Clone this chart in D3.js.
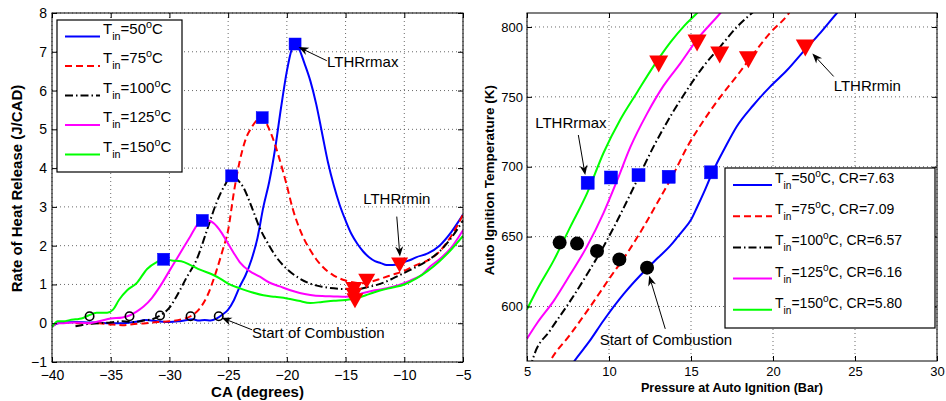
<!DOCTYPE html>
<html><head><meta charset="utf-8">
<script src="https://cdn.jsdelivr.net/npm/d3@7/dist/d3.min.js"></script>
<style>body{margin:0;background:#fff;} text{font-family:"Liberation Sans",Arial,Helvetica,sans-serif;fill:#000;}</style>
</head><body>
<svg id="c" width="946" height="401"></svg>
<script>
// ---------------- DATA ----------------
const seriesTemps = ["50", "75", "100", "125", "150"];
const seriesCR = ["7.63", "7.09", "6.57", "6.16", "5.80"];
const seriesColors = ["#0000ff", "#ff0000", "#000000", "#ff00ff", "#00ff00"];

const caTicks = [-40, -35, -30, -25, -20, -15, -10, -5];
const hrrTicks = [-1, 0, 1, 2, 3, 4, 5, 6, 7, 8];
const pTicks = [5, 10, 15, 20, 25, 30];
const tTicks = [600, 650, 700, 750, 800];

// Left: rate of heat release vs crank angle
const hrr50 = [[-40,-0.08],[-39.5,0.0],[-39,0.02],[-38,0.03],[-37,0.02],[-36,0.01],[-35,0.0],[-34,0.0],[-33,0.03],[-32,0.08],[-31,0.05],[-30,0.03],[-29,0.06],[-28,0.1],[-27.5,0.07],[-27,0.08],[-26.5,0.07],[-26,0.12],[-25.5,0.22],[-25,0.35],[-24.5,0.6],[-24,0.95],[-23.5,1.25],[-23,1.65],[-22.5,2.2],[-22,3.0],[-21.5,3.65],[-21,4.5],[-20.5,5.55],[-20,6.5],[-19.6,7.05],[-19.3,7.2],[-19,7.1],[-18.5,6.7],[-18,6.25],[-17.5,5.65],[-17,4.9],[-16.5,4.15],[-16,3.55],[-15.5,3.05],[-15,2.65],[-14.5,2.3],[-14,2.05],[-13.5,1.85],[-13,1.7],[-12.5,1.6],[-12,1.55],[-11.5,1.5],[-11,1.5],[-10.5,1.52],[-10,1.58],[-9.5,1.63],[-9,1.7],[-8,1.8],[-7,2.0],[-6,2.35],[-5,2.8]];
const hrr75 = [[-38,0.0],[-37,0.0],[-36,0.0],[-35,-0.03],[-34,-0.05],[-33,-0.02],[-32,0.0],[-31,0.03],[-30,0.05],[-29,0.1],[-28.2,0.18],[-27.5,0.35],[-26.8,0.69],[-26,1.35],[-25.5,1.85],[-25,2.4],[-24.5,3.4],[-24,4.2],[-23.5,4.75],[-23,5.05],[-22.5,5.25],[-22.1,5.3],[-21.5,5.0],[-21,4.6],[-20.5,4.1],[-20,3.55],[-19.5,2.95],[-19,2.5],[-18.5,2.15],[-18,1.88],[-17.5,1.65],[-17,1.47],[-16.5,1.33],[-16,1.23],[-15,1.1],[-14,1.04],[-13.5,1.03],[-13,1.06],[-12,1.15],[-11,1.25],[-10,1.35],[-9,1.5],[-8,1.62],[-7,1.85],[-6,2.25],[-5,2.8]];
const hrr100 = [[-38,-0.08],[-37.5,-0.05],[-37,-0.02],[-36,0.0],[-35,0.02],[-34,0.05],[-33,0.03],[-32,0.08],[-31.5,0.1],[-30.8,0.2],[-30,0.4],[-29.4,0.69],[-28.5,1.2],[-27.7,1.63],[-26.8,2.4],[-26,3.1],[-25.3,3.55],[-24.7,3.8],[-24.2,3.7],[-23.7,3.5],[-23,3.0],[-22.3,2.45],[-21.5,2.0],[-21,1.75],[-20,1.4],[-19,1.17],[-18,1.02],[-17,0.94],[-16,0.9],[-15,0.88],[-14,0.88],[-13,0.94],[-12,1.02],[-11,1.15],[-10,1.3],[-9,1.45],[-8,1.62],[-7,1.85],[-6,2.2],[-5,2.65]];
const hrr125 = [[-40,-0.1],[-39.5,0.0],[-39,0.0],[-38,0.02],[-37,0.0],[-36,0.05],[-35,0.12],[-34,0.15],[-33.4,0.2],[-32.8,0.3],[-32.2,0.43],[-31.5,0.65],[-30.8,0.95],[-30,1.35],[-29.4,1.65],[-28.8,1.95],[-28.2,2.25],[-27.6,2.55],[-27.2,2.65],[-26.7,2.65],[-26.2,2.57],[-25.6,2.35],[-25,2.05],[-24.5,1.8],[-24,1.57],[-23.2,1.35],[-22.3,1.2],[-21.5,1.05],[-20.6,0.95],[-19.7,0.85],[-18.9,0.78],[-18,0.73],[-17,0.7],[-16,0.69],[-15,0.68],[-14.3,0.7],[-13.5,0.78],[-12.5,0.85],[-11.5,0.9],[-10.5,0.98],[-9.5,1.1],[-8.5,1.25],[-7.8,1.46],[-7,1.65],[-6,1.95],[-5,2.4]];
const hrr150 = [[-40,-0.1],[-39.5,0.05],[-39,0.05],[-38.5,0.08],[-38,0.1],[-37.5,0.12],[-36.9,0.2],[-36.2,0.27],[-35.3,0.27],[-34.8,0.35],[-34.3,0.6],[-33.6,0.85],[-32.8,1.03],[-31.9,1.4],[-31.1,1.57],[-30.5,1.65],[-29.8,1.62],[-29,1.6],[-28.2,1.5],[-27.4,1.38],[-26.3,1.25],[-25.5,1.12],[-25,1.02],[-24,0.9],[-23,0.8],[-22,0.72],[-21,0.68],[-20,0.64],[-19,0.58],[-18,0.52],[-17,0.55],[-16,0.58],[-15,0.6],[-14,0.65],[-13,0.75],[-12,0.85],[-11,0.92],[-10,1.0],[-9,1.15],[-8,1.35],[-7,1.6],[-6,1.9],[-5,2.25]];
const lthrMaxLeft = [[-19.3,7.2],[-22.1,5.3],[-24.7,3.8],[-27.2,2.65],[-30.5,1.65]];
const lthrMinLeft = [[-10.4,1.5],[-13.2,1.08],[-14.3,0.87],[-14.3,0.72],[-14.2,0.58]];
const socLeft = [[-25.8,0.18],[-28.2,0.18],[-30.8,0.2],[-33.4,0.18],[-36.8,0.18]];

// Right: auto-ignition temperature vs pressure
const ai50 = [[7.6,556],[7.89,561],[8.8,575],[9.67,590],[10.9,609],[12.3,627],[13.0,635],[13.7,643],[14.2,650],[14.55,655],[15.0,662],[15.37,671],[15.8,682],[16.2,693],[16.6,703],[17,712],[17.8,729],[18.8,744],[19.8,757],[20.85,769],[21.97,784],[22.9,796],[23.9,810],[24.2,814]];
const ai75 = [[6.2,556],[6.42,561],[7.64,580],[8.86,600],[10.08,621],[11.1,638],[12.11,657],[13.13,678],[13.94,695],[14.76,714],[15.77,733],[16.79,750],[17.8,765],[18.82,781],[19.84,796],[20.85,808],[21.1,812]];
const ai100 = [[5.2,556],[5.4,564],[6.42,583],[7.64,604],[8.66,623],[9.67,643],[10.7,666],[11.7,690],[12.7,714],[13.74,736],[14.76,755],[15.77,772],[16.79,786],[17.8,800],[18.82,811]];
const ai125 = [[5,577],[5.61,588],[6.63,604],[7.64,623],[8.66,643],[9.67,667],[10.49,690],[11.3,714],[12.32,738],[13.33,758],[14.35,774],[15.37,791],[16.79,810],[17,813]];
const ai150 = [[5,598],[5.61,612],[6.63,633],[7.64,657],[8.66,681],[9.67,710],[10.7,734],[11.7,753],[12.72,772],[13.74,789],[14.6,801],[15.37,810],[15.6,813]];
const lthrMaxRight = [[16.22,696],[13.64,692.8],[11.8,694],[10.12,692.3],[8.7,688.5]];
const lthrMinRight = [[21.97,785],[18.5,776.6],[16.75,780],[15.37,788.5],[13.03,773.5]];
const socRight = [[12.32,627.8],[10.63,633.7],[9.27,639.7],[8.05,645],[6.99,645.7]];

// ---------------- DRAW ----------------
const svg = d3.select("#c");
const dashes = [null, "7,4", "8,3,1.5,3", null, null];

function tinLabel(g, x, y, temp, extra, fs) {
  const t = g.append("text").attr("x", x).attr("y", y).attr("font-size", fs);
  t.append("tspan").text("T");
  t.append("tspan").attr("dy", 6).attr("font-size", fs * 0.72).text("in");
  t.append("tspan").attr("dy", -6).text("=" + temp);
  t.append("tspan").attr("dy", -6).attr("font-size", fs * 0.72).text("o");
  t.append("tspan").attr("dy", 6).text("C" + extra);
}

function arrow(g, x1, y1, x2, y2) {
  const ang = Math.atan2(y2 - y1, x2 - x1);
  const L = 10, W = 4, N = 7;
  g.append("line").attr("x1", x1).attr("y1", y1)
    .attr("x2", x2 - Math.cos(ang) * N).attr("y2", y2 - Math.sin(ang) * N)
    .attr("stroke", "#000").attr("stroke-width", 1);
  const c = Math.cos(ang), s = Math.sin(ang);
  const pts = [[0, 0], [-L, W], [-N, 0], [-L, -W]].map(([u, v]) => [x2 + u * c - v * s, y2 + u * s + v * c]);
  g.append("path").attr("d", "M" + pts.map(p => p.join(",")).join("L") + "Z").attr("fill", "#000");
}

function frame(g, x, y, w, h, xTicks, yTicks) {
  g.append("g").selectAll("line").data(xTicks).join("line")
    .attr("x1", d => x(d)).attr("x2", d => x(d)).attr("y1", 0).attr("y2", h)
    .attr("stroke", "#444").attr("stroke-width", 0.8).attr("stroke-dasharray", "1,3");
  g.append("g").selectAll("line").data(yTicks).join("line")
    .attr("y1", d => y(d)).attr("y2", d => y(d)).attr("x1", 0).attr("x2", w)
    .attr("stroke", "#444").attr("stroke-width", 0.8).attr("stroke-dasharray", "1,3");
}

function axes(g, x, y, w, h, xTicks, yTicks, fs, xpad, ypad) {
  const T = 5;
  const bottom = d3.axisBottom(x).tickValues(xTicks).tickSizeInner(-T).tickSizeOuter(0).tickPadding(xpad).tickFormat(d3.format("d"));
  const left = d3.axisLeft(y).tickValues(yTicks).tickSizeInner(-T).tickSizeOuter(0).tickPadding(ypad).tickFormat(d3.format("d"));
  const top = d3.axisTop(x).tickValues(xTicks).tickSizeInner(-T).tickSizeOuter(0).tickFormat("");
  const right = d3.axisRight(y).tickValues(yTicks).tickSizeInner(-T).tickSizeOuter(0).tickFormat("");
  const gb = g.append("g").attr("transform", `translate(0,${h})`).call(bottom);
  const gl = g.append("g").call(left);
  g.append("g").call(top);
  g.append("g").attr("transform", `translate(${w},0)`).call(right);
  [gb, gl].forEach(a => a.selectAll("text").attr("font-size", fs).attr("font-family", '"Liberation Sans",Arial,sans-serif').attr("fill", "#000"));
  g.selectAll(".domain").remove();
  g.selectAll(".tick line").attr("stroke", "#000");
  g.append("rect").attr("width", w).attr("height", h).attr("fill", "none").attr("stroke", "#000").attr("stroke-width", 1);
}

function trianglePath(cx, cy, w, h) {
  return `M${cx - w / 2},${cy - h / 2}L${cx + w / 2},${cy - h / 2}L${cx},${cy + h / 2}Z`;
}

// ---------- LEFT CHART ----------
{
  const L = 52, T = 13, W = 411, H = 349;
  const g = svg.append("g").attr("transform", `translate(${L},${T})`);
  const x = d3.scaleLinear().domain([-40, -5]).range([0, W]);
  const y = d3.scaleLinear().domain([-1, 8]).range([H, 0]);
  frame(g, x, y, W, H, caTicks, hrrTicks);
  g.append("clipPath").attr("id", "clipL").append("rect").attr("width", W).attr("height", H);
  const line = d3.line().x(d => x(d[0])).y(d => y(d[1])).curve(d3.curveMonotoneX);
  const data = [hrr50, hrr75, hrr100, hrr125, hrr150];
  const cg = g.append("g").attr("clip-path", "url(#clipL)");
  data.forEach((d, i) => {
    cg.append("path").datum(d).attr("d", line).attr("fill", "none")
      .attr("stroke", seriesColors[i]).attr("stroke-width", 2)
      .attr("stroke-dasharray", dashes[i]);
  });
  cg.selectAll(".sq").data(lthrMaxLeft).join("rect")
    .attr("x", d => x(d[0]) - 6).attr("y", d => y(d[1]) - 6).attr("width", 12).attr("height", 12)
    .attr("fill", "#0000ff").attr("stroke", "#0000ff").attr("stroke-width", 0.5);
  cg.selectAll(".tri").data(lthrMinLeft).join("path")
    .attr("d", d => trianglePath(x(d[0]), y(d[1]), 17, 15)).attr("fill", "#ff0000");
  cg.selectAll(".soc").data(socLeft).join("circle")
    .attr("cx", d => x(d[0])).attr("cy", d => y(d[1])).attr("r", 4.2)
    .attr("fill", "none").attr("stroke", "#000").attr("stroke-width", 1.6);

  axes(g, x, y, W, H, caTicks, hrrTicks, 14, 8, 5);

  const ag = g.append("g");
  ag.append("text").attr("x", x(-16.58)).attr("y", y(6.6)).attr("font-size", 15).text("LTHRrmax");
  arrow(ag, x(-16.6), y(6.77), x(-19.0), y(7.12));
  ag.append("text").attr("x", x(-13.5)).attr("y", y(3.08)).attr("font-size", 15).text("LTHRrmin");
  arrow(ag, x(-10.64), y(2.75), x(-10.37), y(1.72));
  ag.append("text").attr("x", x(-22.96)).attr("y", y(-0.38)).attr("font-size", 15).text("Start of Combustion");
  arrow(ag, x(-22.96), y(-0.17), x(-25.55), y(0.14));

  const lg = svg.append("g").attr("transform", "translate(57,20)");
  lg.append("rect").attr("width", 125).attr("height", 152).attr("fill", "#fff").attr("stroke", "#000").attr("stroke-width", 1.2);
  seriesTemps.forEach((t, i) => {
    const yy = 16.5 + i * 29.5;
    lg.append("line").attr("x1", 8).attr("x2", 43).attr("y1", yy).attr("y2", yy)
      .attr("stroke", seriesColors[i]).attr("stroke-width", 2).attr("stroke-dasharray", dashes[i]);
    tinLabel(lg, 46, yy - 3, t, "", 15);
  });

  svg.append("text").attr("x", L + W / 2).attr("y", 397).attr("text-anchor", "middle")
    .attr("font-size", 15).attr("font-weight", "bold").text("CA (degrees)");
  svg.append("text").attr("transform", `translate(22,${T + H / 2 + 1}) rotate(-90)`).attr("text-anchor", "middle")
    .attr("font-size", 15).attr("font-weight", "bold").text("Rate of Heat Release (J/CAD)");
}

// ---------- RIGHT CHART ----------
{
  const L = 527, T = 13, W = 410, H = 348;
  const g = svg.append("g").attr("transform", `translate(${L},${T})`);
  const x = d3.scaleLinear().domain([5, 30]).range([0, W]);
  const y = d3.scaleLinear().domain([561, 810]).range([H, 0]);
  frame(g, x, y, W, H, pTicks, tTicks);
  g.append("clipPath").attr("id", "clipR").append("rect").attr("width", W).attr("height", H);
  const line = d3.line().x(d => x(d[0])).y(d => y(d[1])).curve(d3.curveMonotoneX);
  const data = [ai50, ai75, ai100, ai125, ai150];
  const cg = g.append("g").attr("clip-path", "url(#clipR)");
  data.forEach((d, i) => {
    cg.append("path").datum(d).attr("d", line).attr("fill", "none")
      .attr("stroke", seriesColors[i]).attr("stroke-width", 2)
      .attr("stroke-dasharray", dashes[i]);
  });
  cg.selectAll(".sq").data(lthrMaxRight).join("rect")
    .attr("x", d => x(d[0]) - 6.5).attr("y", d => y(d[1]) - 6.5).attr("width", 13).attr("height", 13)
    .attr("fill", "#0000ff").attr("stroke", "#0000ff").attr("stroke-width", 0.5);
  cg.selectAll(".tri").data(lthrMinRight).join("path")
    .attr("d", d => trianglePath(x(d[0]), y(d[1]), 19, 17)).attr("fill", "#ff0000");
  cg.selectAll(".soc").data(socRight).join("circle")
    .attr("cx", d => x(d[0])).attr("cy", d => y(d[1])).attr("r", 7)
    .attr("fill", "#000");

  axes(g, x, y, W, H, pTicks, tTicks, 13, 6, 4);

  const ag = g.append("g");
  ag.append("text").attr("x", x(5.5)).attr("y", y(727.7)).attr("font-size", 15).text("LTHRrmax");
  arrow(ag, x(8.13), y(722.7), x(8.55), y(694));
  ag.append("text").attr("x", x(23.7)).attr("y", y(754.3)).attr("font-size", 15).text("LTHRrmin");
  arrow(ag, x(23.7), y(764.6), x(22.4), y(781));
  ag.append("text").attr("x", x(9.43)).attr("y", y(572.2)).attr("font-size", 15).text("Start of Combustion");
  arrow(ag, x(13.43), y(584), x(12.45), y(622));

  const lg = svg.append("g").attr("transform", "translate(725,168)");
  lg.append("rect").attr("width", 210).attr("height", 160).attr("fill", "#fff").attr("stroke", "#000").attr("stroke-width", 1.2);
  seriesTemps.forEach((t, i) => {
    const yy = 17 + i * 31.2;
    lg.append("line").attr("x1", 8).attr("x2", 47).attr("y1", yy).attr("y2", yy)
      .attr("stroke", seriesColors[i]).attr("stroke-width", 2).attr("stroke-dasharray", dashes[i]);
    tinLabel(lg, 50, yy - 2, t, ", CR=" + seriesCR[i], 14);
  });

  svg.append("text").attr("x", 732).attr("y", 392).attr("text-anchor", "middle")
    .attr("font-size", 12.6).attr("font-weight", "bold").text("Pressure at Auto Ignition (Bar)");
  svg.append("text").attr("transform", `translate(494,${T + 167}) rotate(-90)`).attr("text-anchor", "middle")
    .attr("font-size", 13.5).attr("font-weight", "bold").text("Auto Ignition Temperature (K)");
}
</script></body></html>
